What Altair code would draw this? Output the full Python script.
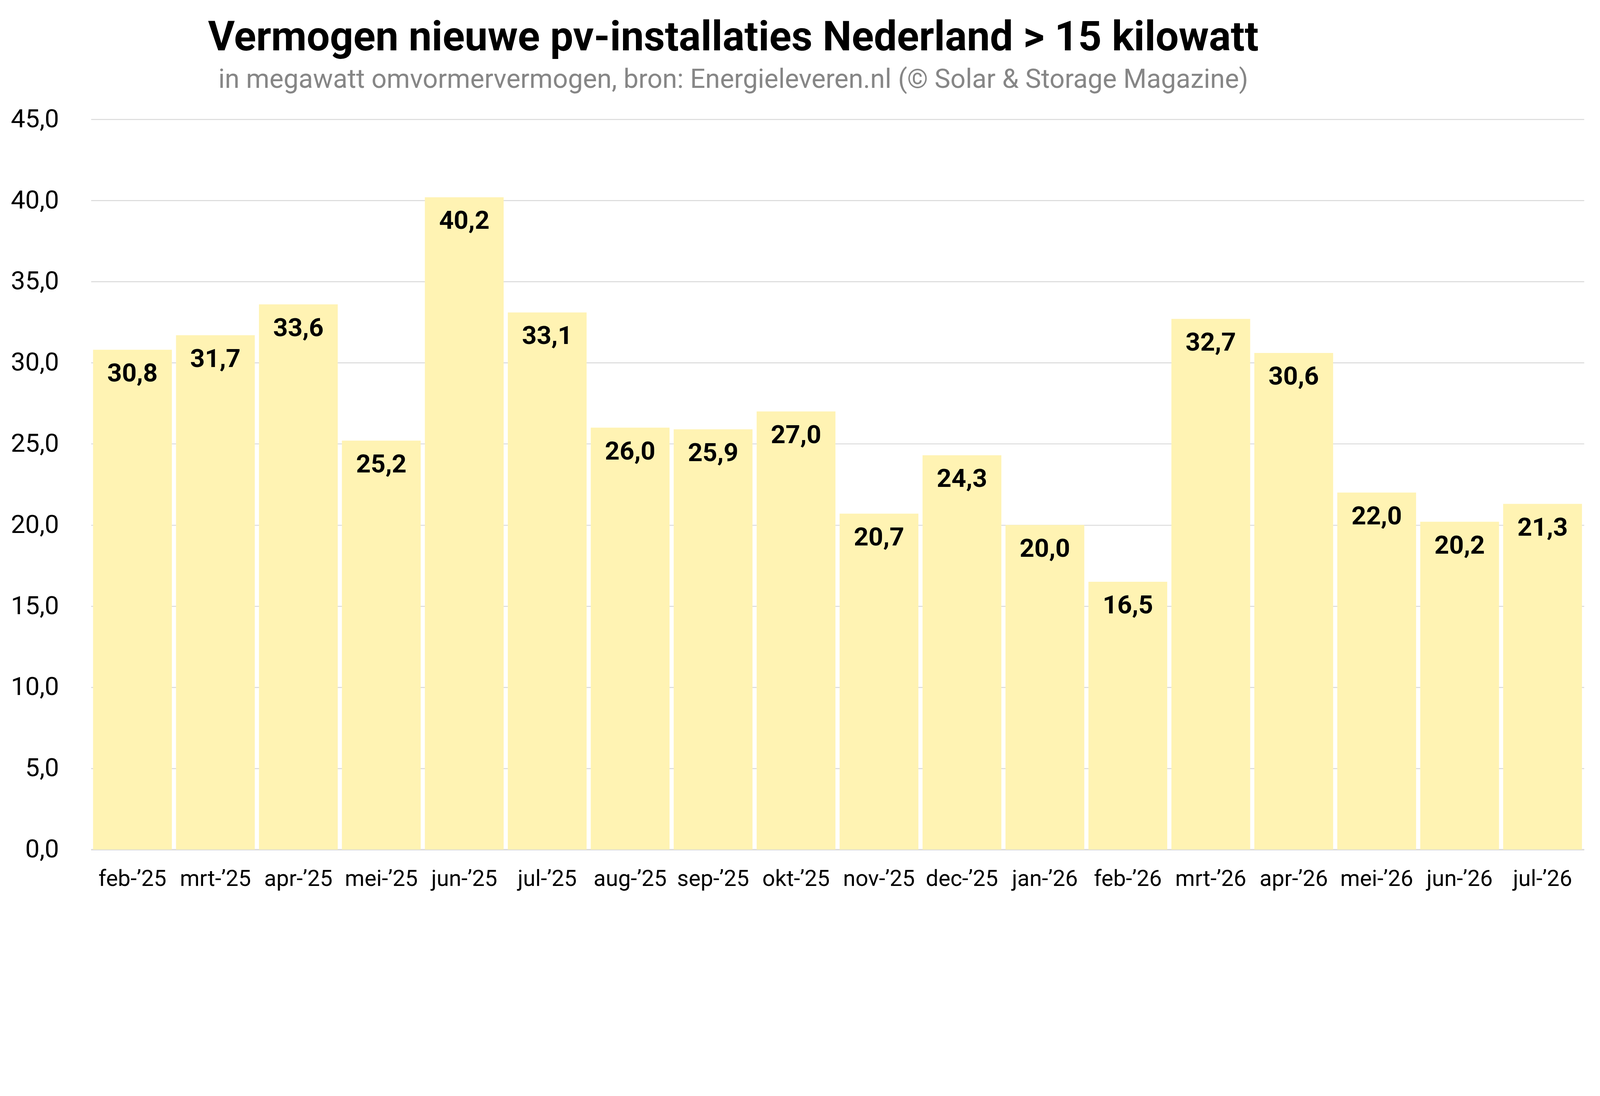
import altair as alt
import pandas as pd

months = ["feb-’25", "mrt-’25", "apr-’25", "mei-’25", "jun-’25", "jul-’25",
          "aug-’25", "sep-’25", "okt-’25", "nov-’25", "dec-’25", "jan-’26",
          "feb-’26", "mrt-’26", "apr-’26", "mei-’26", "jun-’26", "jul-’26"]
values = [30.8, 31.7, 33.6, 25.2, 40.2, 33.1, 26.0, 25.9, 27.0, 20.7, 24.3,
          20.0, 16.5, 32.7, 30.6, 22.0, 20.2, 21.3]
y_ticks = [0, 5, 10, 15, 20, 25, 30, 35, 40, 45]

df = pd.DataFrame({"maand": months, "mw": values})

FONT = "Roboto"

base = alt.Chart(df).encode(
    x=alt.X("maand:N", sort=months, title=None,
            scale=alt.Scale(paddingInner=0.05, paddingOuter=0.025),
            axis=alt.Axis(labelAngle=0, labelFontSize=70, labelColor="#000000",
                          labelFont=FONT, ticks=False, tickSize=0, labelPadding=58,
                          labelLimit=1000,
                          domain=True, domainColor="#d9d9d9", domainWidth=4,
                          grid=False)),
)

bars = base.mark_bar(color="#FFF3B3").encode(
    y=alt.Y("mw:Q", title=None,
            scale=alt.Scale(domain=[0, 45], nice=False),
            axis=alt.Axis(values=y_ticks, labelFontSize=80, labelColor="#000000",
                          labelFont=FONT, ticks=False, tickSize=0, labelPadding=100,
                          domain=False, grid=True, gridColor="#d9d9d9", gridWidth=3,
                          labelExpr="replace(format(datum.value, '.1f'), '.', ',')")),
)

labels = base.mark_text(font=FONT, fontSize=80, fontWeight="bold", color="#000000",
                        baseline="alphabetic", align="center", dy=99).transform_calculate(
    lab="replace(format(datum.mw, '.1f'), '.', ',')"
).encode(
    y=alt.Y("mw:Q"),
    text="lab:N",
)

chart = (bars + labels).properties(
    width=4656,
    height=2278,
    padding={"left": 274, "top": 99, "right": 40, "bottom": 40},
    autosize=alt.AutoSizeParams(type="none"),
    background="#ffffff",
    title=alt.TitleParams(
        text="Vermogen nieuwe pv-installaties Nederland > 15 kilowatt",
        subtitle="in megawatt omvormervermogen, bron: Energieleveren.nl (© Solar & Storage Magazine)",
        font=FONT, fontSize=128, fontWeight="bold", color="#000000",
        subtitleFont=FONT, subtitleFontSize=83, subtitleColor="#868686",
        subtitlePadding=24, anchor="middle", dx=-325, offset=40,
    ),
).configure_view(stroke=None)

chart.save("out.html", embed_options={"renderer": "svg", "actions": False})
